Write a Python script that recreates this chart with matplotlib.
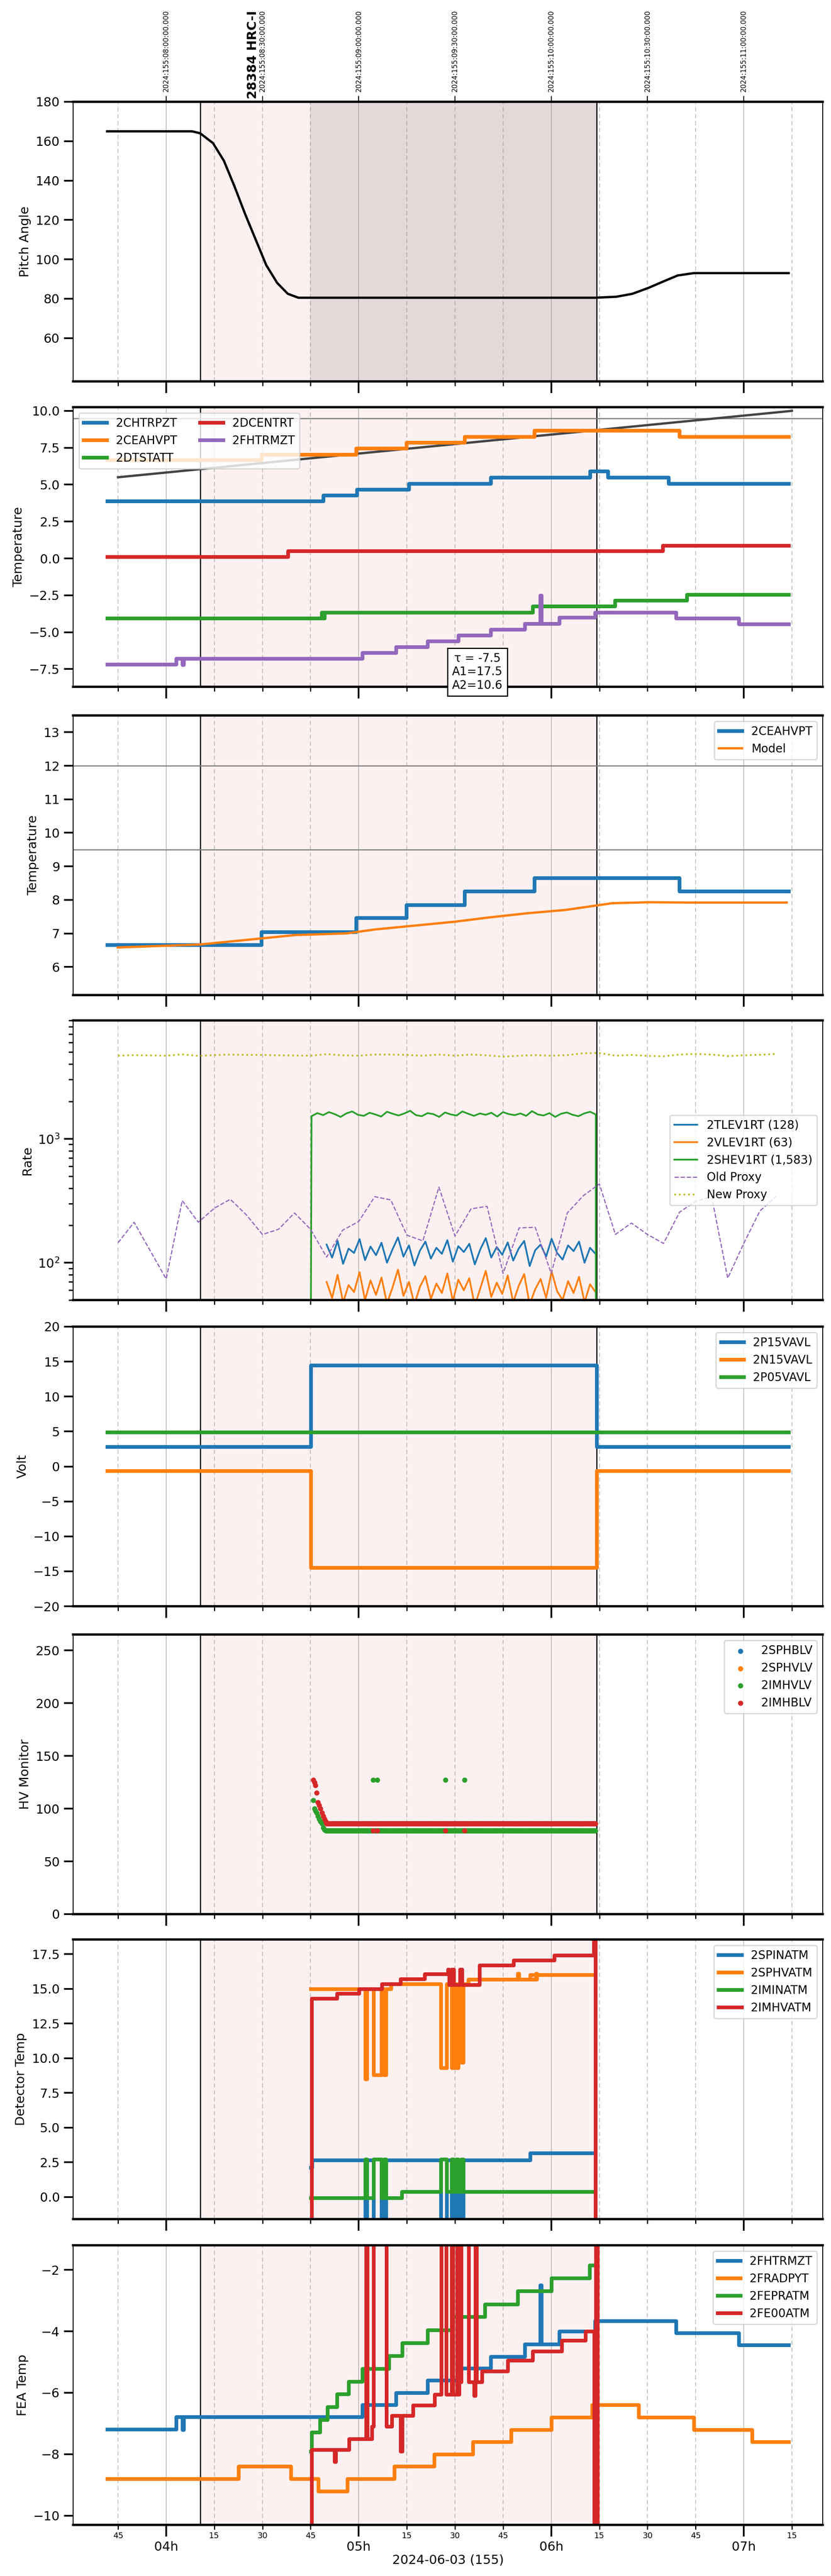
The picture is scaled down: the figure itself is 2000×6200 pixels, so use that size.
import numpy as np
import matplotlib
matplotlib.use("Agg")
import matplotlib.pyplot as plt
from matplotlib.ticker import FixedLocator, NullFormatter

# ============== data (times in minutes after 00:00, 2024-06-03) ==============

X_MIN, X_MAX = 211.0, 444.6
SHADE_START, SHADE_END = 250.6, 374.1
DARK_START = 285.0

# pitch
pitch_t = [221.6, 248.1, 250.6, 254.6, 258.0, 261.3, 264.6, 267.9, 271.2, 274.6, 277.9, 281.2,
           373.7, 380.3, 385.3, 390.3, 395.3, 399.4, 404.4, 434.0]
pitch_v = [165, 165, 164, 159, 150, 137, 123, 110, 97, 88, 82.5, 80.5,
           80.5, 81, 82.5, 85.5, 89, 91.8, 93, 93]

# temperatures (step series)
chtrpzt_t = [221.6, 289.0, 299.5, 315.6, 341.2, 372.1, 377.7, 396.6, 434.0]
chtrpzt_v = [3.9, 4.28, 4.68, 5.08, 5.48, 5.9, 5.48, 5.08, 5.08]

ceahvpt_t = [221.6, 269.7, 299.2, 314.9, 333.0, 354.7, 399.9, 434.0]
ceahvpt_v = [6.66, 7.04, 7.46, 7.85, 8.26, 8.66, 8.26, 8.26]

dtstatt_t = [221.6, 288.4, 288.9, 289.4, 354.2, 379.9, 402.2, 434.0]
dtstatt_v = [-4.05, -3.65, -4.05, -3.65, -3.25, -2.85, -2.45, -2.45]

dcentrt_t = [221.6, 277.9, 394.8, 434.0]
dcentrt_v = [0.12, 0.5, 0.88, 0.88]

fhtrmzt_t = [221.6, 243.1, 245.0, 245.4, 301.1, 311.6, 321.4, 331.0, 341.2, 351.8, 356.5, 356.9,
             362.5, 373.7, 398.9, 418.5, 434.0]
fhtrmzt_v = [-7.19, -6.78, -7.2, -6.78, -6.39, -6.0, -5.6, -5.2, -4.82, -4.42, -2.5, -4.42,
             -4.0, -3.66, -4.05, -4.45, -4.45]

trend_t = [225.0, 435.0]
trend_v = [5.5, 10.0]

model_t = [224.9, 250.6, 269.7, 280.1, 296.2, 305.3, 316.1, 330.1, 340.1, 352.5, 364.5, 373.2,
           379.0, 390.6, 402.2, 433.4]
model_v = [6.58, 6.67, 6.85, 6.95, 7.0, 7.12, 7.22, 7.35, 7.47, 7.6, 7.7, 7.82,
           7.9, 7.93, 7.92, 7.92]

# rates
shev_t0, shev_t1 = 285.1, 373.9
shev_v = [1520, 1610, 1550, 1640, 1580, 1500, 1600, 1660, 1560, 1530, 1620, 1570, 1510, 1650,
          1590, 1540, 1600, 1680, 1550, 1520, 1610, 1580, 1500, 1630, 1570, 1540, 1660, 1590,
          1530, 1600, 1560, 1620, 1510, 1640, 1580, 1550, 1600, 1530, 1670, 1570, 1540, 1610,
          1500, 1590, 1630, 1560, 1520, 1600, 1650, 1570]
tlev_t0, tlev_t1 = 290.0, 373.8
tlev_v = [140, 110, 150, 98, 130, 120, 155, 105, 135, 115, 145, 100, 128, 160, 112, 138, 95, 125,
          148, 108, 132, 118, 152, 102, 136, 122, 142, 97, 128, 158, 110, 134, 116, 146, 104, 130,
          150, 94, 126, 140, 112, 156, 120, 106, 138, 124, 148, 100, 132, 118]
vlev_t0, vlev_t1 = 290.0, 373.8
vlev_v = [70, 52, 80, 48, 66, 58, 84, 50, 72, 55, 76, 47, 63, 88, 54, 70, 46, 64, 78, 51, 68, 57,
          82, 49, 73, 60, 75, 45, 62, 86, 53, 69, 56, 79, 48, 65, 81, 46, 61, 74, 52, 85, 59, 50,
          71, 57, 77, 48, 67, 58]
proxy_t = [225, 230] + list(range(240, 431, 5))
old_proxy = [145, 212, 74, 317, 212, 275, 325, 243, 169, 186, 252, 186, 111, 183, 215, 341, 321,
             167, 150, 407, 164, 272, 285, 82, 191, 193, 82, 252, 347, 432, 169, 209, 169, 143,
             256, 312, 341, 75, 143, 261, 341]
new_proxy = [4675, 4725, 4675, 4792, 4658, 4725, 4775, 4742, 4742, 4708, 4692, 4675, 4809, 4708,
             4675, 4775, 4775, 4742, 4675, 4775, 4675, 4775, 4708, 4592, 4675, 4725, 4675, 4725,
             4895, 4913, 4675, 4742, 4658, 4625, 4775, 4826, 4775, 4642, 4708, 4758, 4826]

# voltages
volt_t = [221.6, 285.1, 374.1, 434.0]
p15_v = [2.8, 14.5, 2.8, 2.8]
n15_v = [-0.6, -14.5, -0.6, -0.6]
p05_v = [4.9, 4.9, 4.9, 4.9]

# HV monitor
hv_decay_t = [285.9, 286.2, 286.5, 286.9, 287.3, 287.7, 288.1, 288.5, 288.9, 289.3, 289.7, 290.0]
imhblv_decay = [127, 125, 122, 115, 106, 103, 100, 96, 93, 90, 88, 86]
imhvlv_decay = [108, 100, 98, 96, 93, 90, 88, 86, 82, 80, 79, 79]
imhblv_level, imhvlv_level = 86, 79
hv_out_t = [304.5, 305.8, 327.0, 333.0]
imhvlv_out = [127, 127, 127, 127]
imhblv_out = [79, 79, 79, 79]

# detector temps
spinatm_t = [285.1, 285.4, 302.0, 302.6, 304.6, 307.1, 307.9, 308.5, 325.6, 327.4, 329.0, 329.6,
             330.4, 331.0, 332.0, 332.6, 353.5, 373.2]
spinatm_v = [2.1, 2.66, -2, 2.66, -2, 2.66, -2, 2.66, -2, 2.66, -2, 2.66,
             -2, 2.66, -2, 2.66, 3.16, 3.16]
sphvatm_t = [285.1, 302.0, 302.6, 304.6, 307.1, 307.9, 308.5, 310.0, 325.6, 327.4, 329.0, 329.6,
             330.4, 331.0, 332.0, 332.6, 334.1, 349.6, 349.9, 355.2, 355.5, 353.5, 373.2]
sphvatm_v = [15.0, 8.5, 15.0, 8.8, 15.0, 8.8, 15.0, 15.35, 9.3, 15.35, 9.3, 15.35,
             9.3, 15.35, 9.7, 15.35, 15.69, 16.1, 15.69, 16.1, 15.69, 16.02, 16.02]
iminatm_t = [285.1, 302.0, 302.6, 304.6, 307.1, 307.9, 308.5, 313.4, 325.6, 327.4, 329.0, 329.6,
             330.4, 331.0, 332.0, 332.6, 373.2]
iminatm_v = [-0.07, 2.7, -0.07, 2.7, -0.07, 2.7, -0.07, 0.37, 2.7, 0.37, 2.7, 0.37,
             2.7, 0.37, 2.7, 0.37, 0.37]
imhvatm_t = [285.1, 285.3, 293.2, 300.1, 307.2, 313.1, 320.6, 327.8, 328.2, 329.0, 329.6,
             331.5, 332.2, 337.7, 348.3, 360.9, 373.3, 373.8, 374.3]
imhvatm_v = [-2, 14.3, 14.65, 15.0, 15.35, 15.7, 16.05, 16.4, 15.3, 16.4, 15.3,
             16.4, 15.3, 16.7, 17.05, 17.4, 19, -2, -2]

# FEA temps
fradpyt_t = [221.6, 262.5, 278.8, 287.4, 296.5, 311.1, 323.5, 335.6, 347.5, 360.0, 372.7,
             387.3, 404.4, 422.6, 434.0]
fradpyt_v = [-8.8, -8.39, -8.8, -9.2, -8.8, -8.39, -8.0, -7.6, -7.2, -6.8, -6.39,
             -6.8, -7.2, -7.6, -7.6]
fepratm_t = [285.1, 285.3, 287.9, 290.2, 293.2, 296.8, 301.1, 309.4, 313.6, 321.4, 329.3, 339.3,
             349.5, 360.1, 371.9, 373.2]
fepratm_v = [-7.9, -7.29, -6.88, -6.46, -6.04, -5.63, -5.21, -4.79, -4.38, -3.96, -3.53, -3.12,
             -2.69, -2.27, -1.85, -1.85]
fe00atm_t = [285.1, 285.3, 292.4, 292.8, 297.0, 302.3, 302.7, 304.1, 304.6, 308.6, 310.3, 313.1,
             313.5, 316.9, 323.7, 325.7, 327.3, 329.0, 329.4, 330.6, 331.0, 331.3, 332.0, 334.3,
             336.0, 336.3, 336.7, 338.4, 346.4, 354.2, 363.3, 370.7, 373.4, 373.9, 374.4, 374.6]
fe00atm_v = [-11, -7.85, -8.25, -7.85, -7.5, 0, -7.5, -7.1, 0, -7.1, -6.75, -7.9,
             -6.75, -6.4, -6.05, 0, -6.05, 0, -6.05, 0, -6.05, -5.65, 0, -5.65,
             -6.1, 0, -5.65, -5.3, -4.95, -4.65, -4.3, -4.0, -11, 0, -11, -11]

top_labels = ["2024:155:08:00:00.000", "2024:155:08:30:00.000", "2024:155:09:00:00.000",
              "2024:155:09:30:00.000", "2024:155:10:00:00.000", "2024:155:10:30:00.000",
              "2024:155:11:00:00.000"]

# ============== style ==============

C0, C1, C2, C3, C4 = "#1f77b4", "#ff7f0e", "#2ca02c", "#d62728", "#9467bd"
SHADE_COLOR = "#fdf0f0"
DARK_COLOR = "#e4d9d9"
LW = 3.2


def h(ts):
    return np.asarray(ts, dtype=float) / 60.0


def step(ax, t, v, color, label=None, lw=LW):
    ax.plot(h(t), v, drawstyle="steps-post", color=color, lw=lw, label=label)


def decorate(ax, ylabel, bottom=False):
    ax.set_xlim(X_MIN / 60, X_MAX / 60)
    ax.axvspan(SHADE_START / 60, SHADE_END / 60, color=SHADE_COLOR, zorder=0)
    ax.axvline(SHADE_START / 60, color="black", lw=1, zorder=1)
    ax.axvline(SHADE_END / 60, color="black", lw=1, zorder=1)
    for m in np.arange(225, 441, 15):
        if m % 60 == 0:
            ax.axvline(m / 60, color="gray", lw=0.6, alpha=0.6, zorder=0.5)
        else:
            ax.axvline(m / 60, color="gray", lw=0.6, alpha=0.6, ls=(0, (6, 4)), zorder=0.5)
    ax.set_ylabel(ylabel, fontsize=11)
    ax.spines["top"].set_linewidth(2)
    ax.spines["bottom"].set_linewidth(2)
    ax.tick_params(axis="y", which="major", length=8, width=1.5, labelsize=11)
    ax.tick_params(axis="y", which="minor", length=4, width=1.2)
    ax.xaxis.set_major_locator(FixedLocator([4, 5, 6, 7]))
    ax.xaxis.set_minor_locator(FixedLocator([m / 60 for m in np.arange(225, 441, 15) if m % 60]))
    ax.tick_params(axis="x", which="major", length=10, width=1.5, pad=4, labelsize=11)
    ax.tick_params(axis="x", which="minor", length=4, width=1, labelsize=7, pad=2)
    if bottom:
        ax.set_xticklabels(["04h", "05h", "06h", "07h"])
        ax.xaxis.set_minor_formatter(plt.FuncFormatter(lambda x, p: "%d" % round((x * 60) % 60)))
        ax.set_xlabel("2024-06-03 (155)", fontsize=11, labelpad=1)
    else:
        ax.set_xticklabels([])
        ax.xaxis.set_minor_formatter(NullFormatter())


fig = plt.figure(figsize=(10, 31), dpi=200)
L, W = 0.088, 0.902
tops = [245, 980, 1722, 2456, 3193, 3934, 4668, 5404]
PH = 673
axes = [fig.add_axes([L, 1 - (t + PH) / 6200, W, PH / 6200]) for t in tops]

# 1 pitch
ax = axes[0]
decorate(ax, "Pitch Angle")
ax.axvspan(DARK_START / 60, SHADE_END / 60, color=DARK_COLOR, zorder=0.2)
ax.plot(h(pitch_t), pitch_v, color="black", lw=2)
ax.set_ylim(38, 180)
ax.set_yticks([60, 80, 100, 120, 140, 160, 180])
top = ax.secondary_xaxis("top")
top.set_xticks([4, 4.5, 5, 5.5, 6, 6.5, 7])
top.set_xticklabels(top_labels, rotation=90, fontsize=6)
top.tick_params(length=5)
ax.text(267.0 / 60, 181.5, "28384 HRC-I", rotation=90, fontsize=11, fontweight="bold",
        ha="center", va="bottom")

# 2 temperatures
ax = axes[1]
decorate(ax, "Temperature")
ax.axhline(9.5, color="gray", lw=1)
ax.plot(h(trend_t), trend_v, color="#444444", lw=2)
step(ax, chtrpzt_t, chtrpzt_v, C0, "2CHTRPZT")
step(ax, ceahvpt_t, ceahvpt_v, C1, "2CEAHVPT")
step(ax, dtstatt_t, dtstatt_v, C2, "2DTSTATT")
step(ax, dcentrt_t, dcentrt_v, C3, "2DCENTRT")
step(ax, fhtrmzt_t, fhtrmzt_v, C4, "2FHTRMZT")
ax.set_ylim(-8.7, 10.25)
ax.set_yticks([-7.5, -5, -2.5, 0, 2.5, 5, 7.5, 10])
ax.legend(loc="upper left", ncol=2, fontsize=10)
ax.text(337 / 60, -7.7, "\u03c4 = -7.5\nA1=17.5\nA2=10.6", fontsize=10, ha="center", va="center",
        bbox=dict(facecolor="white", edgecolor="black"), clip_on=False, zorder=10)

# 3 2CEAHVPT vs model
ax = axes[2]
decorate(ax, "Temperature")
ax.axhline(12, color="gray", lw=1)
ax.axhline(9.5, color="gray", lw=1)
step(ax, ceahvpt_t, ceahvpt_v, C0, "2CEAHVPT")
ax.plot(h(model_t), model_v, color=C1, lw=2, label="Model")
ax.set_ylim(5.16, 13.5)
ax.set_yticks([6, 7, 8, 9, 10, 11, 12, 13])
ax.legend(loc="upper right", fontsize=10)

# 4 rates
ax = axes[3]
decorate(ax, "Rate")
ax.set_yscale("log")
ax.plot(np.linspace(tlev_t0, tlev_t1, len(tlev_v)) / 60, tlev_v, color=C0, lw=1.5, label="2TLEV1RT (128)")
ax.plot(np.linspace(vlev_t0, vlev_t1, len(vlev_v)) / 60, vlev_v, color=C1, lw=1.5, label="2VLEV1RT (63)")
ax.plot(np.r_[shev_t0, np.linspace(shev_t0 + 0.2, shev_t1, len(shev_v)), shev_t1] / 60,
        np.r_[40, shev_v, 40], color=C2, lw=1.5, label="2SHEV1RT (1,583)")
ax.plot(h(proxy_t), old_proxy, color=C4, lw=1, ls="--", label="Old Proxy")
ax.plot(h(proxy_t), new_proxy, color="#bcbd22", lw=1.5, ls=":", label="New Proxy")
ax.set_ylim(50, 9000)
ax.legend(loc="center right", fontsize=10)

# 5 volts
ax = axes[4]
decorate(ax, "Volt")
step(ax, volt_t, p15_v, C0, "2P15VAVL")
step(ax, volt_t, n15_v, C1, "2N15VAVL")
step(ax, volt_t, p05_v, C2, "2P05VAVL")
ax.set_ylim(-20, 20)
ax.set_yticks(range(-20, 21, 5))
ax.legend(loc="upper right", fontsize=10)

# 6 HV monitor
ax = axes[5]
decorate(ax, "HV Monitor")
flat_t = np.arange(290.0, 374.0, 0.2)
ax.scatter([], [], s=12, color=C0, label="2SPHBLV")
ax.scatter([], [], s=12, color=C1, label="2SPHVLV")
ax.scatter(h(np.r_[hv_decay_t, flat_t, hv_out_t]),
           np.r_[imhvlv_decay, np.full(len(flat_t), imhvlv_level), imhvlv_out],
           s=12, color=C2, label="2IMHVLV", zorder=3)
ax.scatter(h(np.r_[hv_decay_t, flat_t, hv_out_t]),
           np.r_[imhblv_decay, np.full(len(flat_t), imhblv_level), imhblv_out],
           s=12, color=C3, label="2IMHBLV", zorder=3)
ax.set_ylim(0, 265)
ax.set_yticks(range(0, 251, 50))
ax.legend(loc="upper right", fontsize=10)

# 7 detector temps
ax = axes[6]
decorate(ax, "Detector Temp")
step(ax, spinatm_t, spinatm_v, C0, "2SPINATM")
step(ax, sphvatm_t, sphvatm_v, C1, "2SPHVATM")
step(ax, iminatm_t, iminatm_v, C2, "2IMINATM")
step(ax, imhvatm_t, imhvatm_v, C3, "2IMHVATM")
ax.set_ylim(-1.6, 18.55)
ax.set_yticks([0, 2.5, 5, 7.5, 10, 12.5, 15, 17.5])
ax.legend(loc="upper right", fontsize=10)

# 8 FEA temps
ax = axes[7]
decorate(ax, "FEA Temp", bottom=True)
step(ax, fhtrmzt_t, fhtrmzt_v, C0, "2FHTRMZT")
step(ax, fradpyt_t, fradpyt_v, C1, "2FRADPYT")
step(ax, fepratm_t, fepratm_v, C2, "2FEPRATM")
step(ax, fe00atm_t, fe00atm_v, C3, "2FE00ATM")
ax.set_ylim(-10.3, -1.2)
ax.set_yticks([-10, -8, -6, -4, -2])
ax.legend(loc="upper right", fontsize=10)

fig.savefig("out.png", dpi=200)
